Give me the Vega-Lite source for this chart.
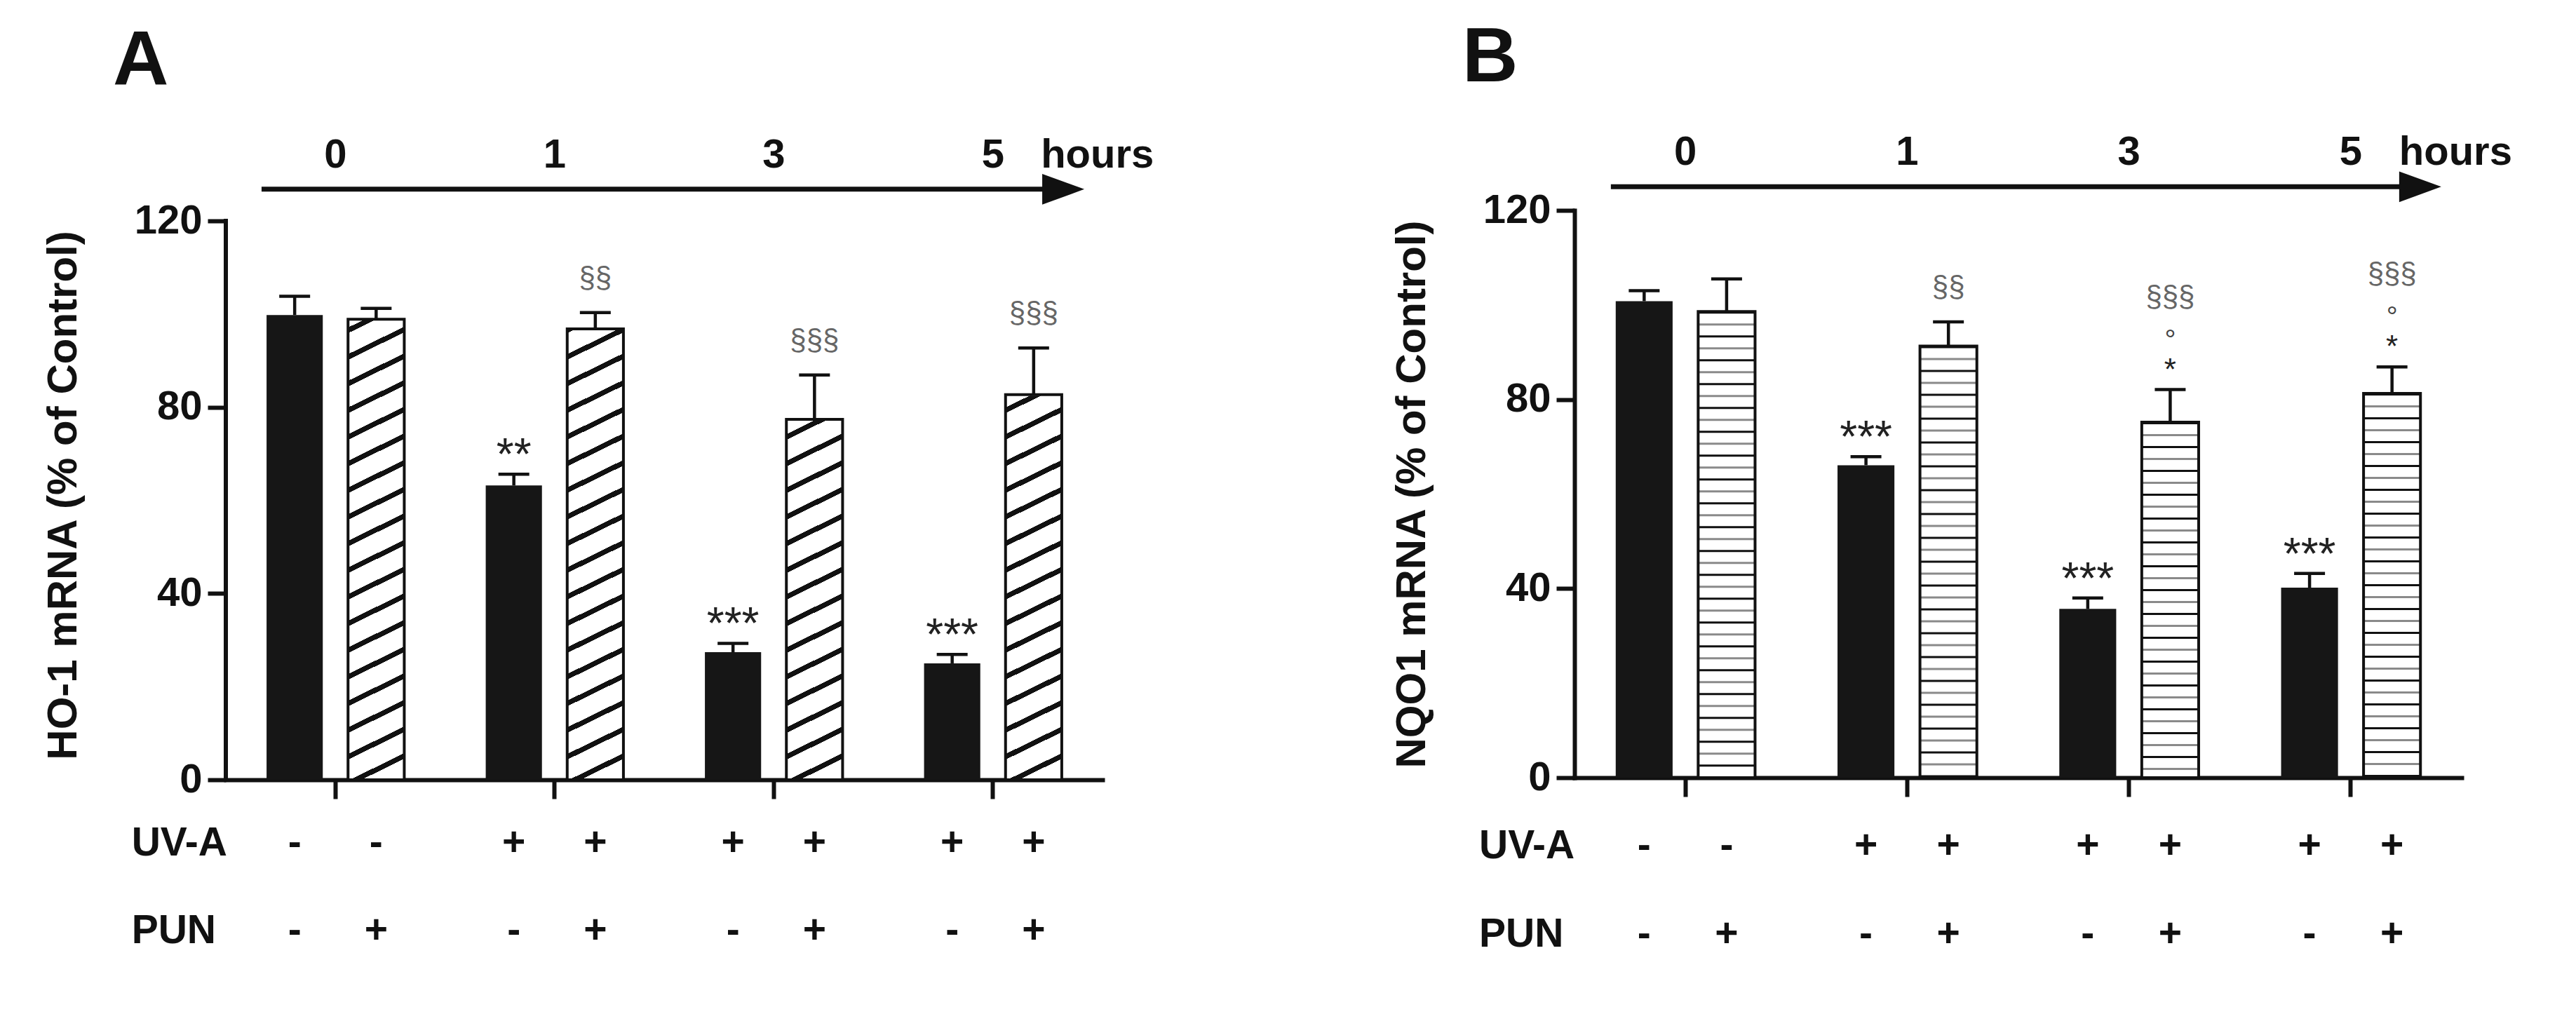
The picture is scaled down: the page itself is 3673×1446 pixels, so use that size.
{
  "$schema": "https://vega.github.io/schema/vega-lite/v6.json",
  "background": "white",
  "padding": {"left": 60, "top": 28, "right": 0, "bottom": 0},
  "spacing": 337,
  "resolve": {"scale": {"x": "independent", "y": "independent", "xOffset": "independent"}},
  "config": {
    "font": "Liberation Sans",
    "view": {"stroke": null},
    "axis": {"grid": false, "domainColor": "#111111", "domainWidth": 6, "domainCap": "square", "tickColor": "#111111", "tickWidth": 6,
      "labelFont": "Liberation Sans", "labelFontSize": 58, "labelFontWeight": "bold", "labelColor": "#111111",
      "titleFont": "Liberation Sans", "titleFontSize": 60, "titleFontWeight": "bold", "titleColor": "#111111"},
    "axisY": {"tickSize": 26, "labelPadding": 8, "titlePadding": 70},
    "title": {"font": "Liberation Sans", "fontSize": 110, "fontWeight": "bold", "color": "#111111"}
  },
  "datasets": {
    "bars": [
      {"panel": "A", "hours": "0", "grp": "ctrl", "uva": "-", "pun": "-", "mean": 99.8, "upper": 103.8, "star": "", "ring": "", "sect": ""},
      {"panel": "A", "hours": "0", "grp": "pun", "uva": "-", "pun": "+", "mean": 98.9, "upper": 101.2, "star": "", "ring": "", "sect": ""},
      {"panel": "A", "hours": "1", "grp": "ctrl", "uva": "+", "pun": "-", "mean": 63.2, "upper": 65.6, "star": "**", "ring": "", "sect": ""},
      {"panel": "A", "hours": "1", "grp": "pun", "uva": "+", "pun": "+", "mean": 96.8, "upper": 100.3, "star": "", "ring": "", "sect": "§§"},
      {"panel": "A", "hours": "3", "grp": "ctrl", "uva": "+", "pun": "-", "mean": 27.4, "upper": 29.3, "star": "***", "ring": "", "sect": ""},
      {"panel": "A", "hours": "3", "grp": "pun", "uva": "+", "pun": "+", "mean": 77.4, "upper": 86.9, "star": "", "ring": "", "sect": "§§§"},
      {"panel": "A", "hours": "5", "grp": "ctrl", "uva": "+", "pun": "-", "mean": 25.0, "upper": 26.9, "star": "***", "ring": "", "sect": ""},
      {"panel": "A", "hours": "5", "grp": "pun", "uva": "+", "pun": "+", "mean": 82.7, "upper": 92.7, "star": "", "ring": "", "sect": "§§§"},
      {"panel": "B", "hours": "0", "grp": "ctrl", "uva": "-", "pun": "-", "mean": 100.8, "upper": 103.0, "star": "", "ring": "", "sect": ""},
      {"panel": "B", "hours": "0", "grp": "pun", "uva": "-", "pun": "+", "mean": 98.6, "upper": 105.5, "star": "", "ring": "", "sect": ""},
      {"panel": "B", "hours": "1", "grp": "ctrl", "uva": "+", "pun": "-", "mean": 66.1, "upper": 67.9, "star": "***", "ring": "", "sect": ""},
      {"panel": "B", "hours": "1", "grp": "pun", "uva": "+", "pun": "+", "mean": 91.3, "upper": 96.4, "star": "", "ring": "", "sect": "§§"},
      {"panel": "B", "hours": "3", "grp": "ctrl", "uva": "+", "pun": "-", "mean": 35.7, "upper": 38.0, "star": "***", "ring": "", "sect": ""},
      {"panel": "B", "hours": "3", "grp": "pun", "uva": "+", "pun": "+", "mean": 75.2, "upper": 82.1, "star": "*", "ring": "°", "sect": "§§§"},
      {"panel": "B", "hours": "5", "grp": "ctrl", "uva": "+", "pun": "-", "mean": 40.2, "upper": 43.2, "star": "***", "ring": "", "sect": ""},
      {"panel": "B", "hours": "5", "grp": "pun", "uva": "+", "pun": "+", "mean": 81.3, "upper": 86.9, "star": "*", "ring": "°", "sect": "§§§"}
    ]
  },
  "hconcat": [
    {
      "width": 1250,
      "height": 812,
      "title": {"text": "A", "anchor": "start", "frame": "group", "dx": -161, "offset": 50},
      "data": {"name": "bars"},
      "transform": [{"filter": "datum.panel === 'A'"}],
      "layer": [
        {
          "transform": [{"filter": "datum.grp === 'pun'"}],
          "mark": {"type": "bar", "strokeWidth": 0, "fill": {"gradient": "linear", "x1": 0, "y1": 0, "x2": 0.0515, "y2": 1.0467, "stops": [
            {"offset": 0, "color": "#111111"}, {"offset": 0.0096, "color": "#111111"}, {"offset": 0.0096, "color": "#ffffff"},
            {"offset": 0.04545, "color": "#ffffff"}, {"offset": 0.04545, "color": "#111111"}, {"offset": 0.05505, "color": "#111111"}, {"offset": 0.05505, "color": "#ffffff"},
            {"offset": 0.09091, "color": "#ffffff"}, {"offset": 0.09091, "color": "#111111"}, {"offset": 0.10051, "color": "#111111"}, {"offset": 0.10051, "color": "#ffffff"},
            {"offset": 0.13636, "color": "#ffffff"}, {"offset": 0.13636, "color": "#111111"}, {"offset": 0.14596, "color": "#111111"}, {"offset": 0.14596, "color": "#ffffff"},
            {"offset": 0.18182, "color": "#ffffff"}, {"offset": 0.18182, "color": "#111111"}, {"offset": 0.19142, "color": "#111111"}, {"offset": 0.19142, "color": "#ffffff"},
            {"offset": 0.22727, "color": "#ffffff"}, {"offset": 0.22727, "color": "#111111"}, {"offset": 0.23687, "color": "#111111"}, {"offset": 0.23687, "color": "#ffffff"},
            {"offset": 0.27273, "color": "#ffffff"}, {"offset": 0.27273, "color": "#111111"}, {"offset": 0.28233, "color": "#111111"}, {"offset": 0.28233, "color": "#ffffff"},
            {"offset": 0.31818, "color": "#ffffff"}, {"offset": 0.31818, "color": "#111111"}, {"offset": 0.32778, "color": "#111111"}, {"offset": 0.32778, "color": "#ffffff"},
            {"offset": 0.36364, "color": "#ffffff"}, {"offset": 0.36364, "color": "#111111"}, {"offset": 0.37324, "color": "#111111"}, {"offset": 0.37324, "color": "#ffffff"},
            {"offset": 0.40909, "color": "#ffffff"}, {"offset": 0.40909, "color": "#111111"}, {"offset": 0.41869, "color": "#111111"}, {"offset": 0.41869, "color": "#ffffff"},
            {"offset": 0.45455, "color": "#ffffff"}, {"offset": 0.45455, "color": "#111111"}, {"offset": 0.46415, "color": "#111111"}, {"offset": 0.46415, "color": "#ffffff"},
            {"offset": 0.5, "color": "#ffffff"}, {"offset": 0.5, "color": "#111111"}, {"offset": 0.5096, "color": "#111111"}, {"offset": 0.5096, "color": "#ffffff"},
            {"offset": 0.54545, "color": "#ffffff"}, {"offset": 0.54545, "color": "#111111"}, {"offset": 0.55505, "color": "#111111"}, {"offset": 0.55505, "color": "#ffffff"},
            {"offset": 0.59091, "color": "#ffffff"}, {"offset": 0.59091, "color": "#111111"}, {"offset": 0.60051, "color": "#111111"}, {"offset": 0.60051, "color": "#ffffff"},
            {"offset": 0.63636, "color": "#ffffff"}, {"offset": 0.63636, "color": "#111111"}, {"offset": 0.64596, "color": "#111111"}, {"offset": 0.64596, "color": "#ffffff"},
            {"offset": 0.68182, "color": "#ffffff"}, {"offset": 0.68182, "color": "#111111"}, {"offset": 0.69142, "color": "#111111"}, {"offset": 0.69142, "color": "#ffffff"},
            {"offset": 0.72727, "color": "#ffffff"}, {"offset": 0.72727, "color": "#111111"}, {"offset": 0.73687, "color": "#111111"}, {"offset": 0.73687, "color": "#ffffff"},
            {"offset": 0.77273, "color": "#ffffff"}, {"offset": 0.77273, "color": "#111111"}, {"offset": 0.78233, "color": "#111111"}, {"offset": 0.78233, "color": "#ffffff"},
            {"offset": 0.81818, "color": "#ffffff"}, {"offset": 0.81818, "color": "#111111"}, {"offset": 0.82778, "color": "#111111"}, {"offset": 0.82778, "color": "#ffffff"},
            {"offset": 0.86364, "color": "#ffffff"}, {"offset": 0.86364, "color": "#111111"}, {"offset": 0.87324, "color": "#111111"}, {"offset": 0.87324, "color": "#ffffff"},
            {"offset": 0.90909, "color": "#ffffff"}, {"offset": 0.90909, "color": "#111111"}, {"offset": 0.91869, "color": "#111111"}, {"offset": 0.91869, "color": "#ffffff"},
            {"offset": 0.95455, "color": "#ffffff"}, {"offset": 0.95455, "color": "#111111"}, {"offset": 0.96415, "color": "#111111"}, {"offset": 0.96415, "color": "#ffffff"},
            {"offset": 1, "color": "#ffffff"}
          ]}},
          "encoding": {
            "x": {"field": "hours", "type": "nominal", "scale": {"domain": ["0", "1", "3", "5"], "paddingInner": 0, "paddingOuter": 0}},
            "xOffset": {"field": "grp", "type": "nominal", "scale": {"domain": ["ctrl", "pun"], "paddingInner": 0.31, "paddingOuter": 0.5}},
            "y": {"datum": 0, "type": "quantitative", "scale": {"domain": [0, 122.26], "nice": false}},
            "y2": {"datum": 120}
          }
        },
        {
          "transform": [{"filter": "datum.grp === 'pun'"}],
          "mark": {"type": "bar", "fill": "#ffffff", "stroke": "#ffffff", "strokeWidth": 3},
          "encoding": {
            "x": {"field": "hours", "type": "nominal", "scale": {"domain": ["0", "1", "3", "5"], "paddingInner": 0, "paddingOuter": 0}},
            "xOffset": {"field": "grp", "type": "nominal", "scale": {"domain": ["ctrl", "pun"], "paddingInner": 0.31, "paddingOuter": 0.5}},
            "y": {"field": "mean", "type": "quantitative", "scale": {"domain": [0, 122.26], "nice": false}},
            "y2": {"datum": 120}
          }
        },
        {
          "transform": [{"filter": "datum.grp === 'pun'"}],
          "mark": {"type": "bar", "fill": "#ffffff", "fillOpacity": 0, "stroke": "#111111", "strokeWidth": 4},
          "encoding": {
            "x": {"field": "hours", "type": "nominal", "scale": {"domain": ["0", "1", "3", "5"], "paddingInner": 0, "paddingOuter": 0}},
            "xOffset": {"field": "grp", "type": "nominal", "scale": {"domain": ["ctrl", "pun"], "paddingInner": 0.31, "paddingOuter": 0.5}},
            "y": {"field": "mean", "type": "quantitative", "scale": {"domain": [0, 122.26], "nice": false}}
          }
        },
        {
          "transform": [{"filter": "datum.grp === 'ctrl'"}],
          "mark": {"type": "bar", "color": "#161616"},
          "encoding": {
            "x": {"field": "hours", "type": "nominal", "scale": {"domain": ["0", "1", "3", "5"], "paddingInner": 0, "paddingOuter": 0}, "axis": {"labels": false, "title": null, "tickSize": 27}},
            "xOffset": {"field": "grp", "type": "nominal", "scale": {"domain": ["ctrl", "pun"], "paddingInner": 0.31, "paddingOuter": 0.5}},
            "y": {"field": "mean", "type": "quantitative", "scale": {"domain": [0, 122.26], "nice": false}, "axis": {"values": [0, 40, 80, 120], "domain": false, "title": "HO-1 mRNA (% of Control)"}}
          }
        },
        {
          "transform": [{"filter": "datum.hours === '0' && datum.grp === 'ctrl'"}],
          "mark": {"type": "rule", "strokeWidth": 6, "strokeCap": "square", "color": "#111111"},
          "encoding": {
            "x": {"datum": "0", "type": "nominal", "bandPosition": 0, "scale": {"domain": ["0", "1", "3", "5"], "paddingInner": 0, "paddingOuter": 0}},
            "y": {"datum": 0, "type": "quantitative", "scale": {"domain": [0, 122.26], "nice": false}},
            "y2": {"datum": 120}
          }
        },
        {
          "mark": {"type": "rule", "strokeWidth": 4.5, "color": "#111111"},
          "encoding": {
            "x": {"field": "hours", "type": "nominal", "scale": {"domain": ["0", "1", "3", "5"], "paddingInner": 0, "paddingOuter": 0}},
            "xOffset": {"field": "grp", "type": "nominal", "scale": {"domain": ["ctrl", "pun"], "paddingInner": 0.31, "paddingOuter": 0.5}},
            "y": {"field": "mean", "type": "quantitative", "scale": {"domain": [0, 122.26], "nice": false}},
            "y2": {"field": "upper"}
          }
        },
        {
          "mark": {"type": "tick", "orient": "horizontal", "size": 44, "thickness": 4.5, "color": "#111111", "opacity": 1},
          "encoding": {
            "x": {"field": "hours", "type": "nominal", "scale": {"domain": ["0", "1", "3", "5"], "paddingInner": 0, "paddingOuter": 0}},
            "xOffset": {"field": "grp", "type": "nominal", "scale": {"domain": ["ctrl", "pun"], "paddingInner": 0.31, "paddingOuter": 0.5}},
            "y": {"field": "upper", "type": "quantitative", "scale": {"domain": [0, 122.26], "nice": false}}
          }
        },
        {
          "transform": [{"filter": "datum.star !== '' && datum.grp === 'ctrl'"}],
          "mark": {"type": "text", "fontSize": 64, "color": "#222222", "align": "center", "baseline": "alphabetic", "dy": -6},
          "encoding": {
            "x": {"field": "hours", "type": "nominal", "scale": {"domain": ["0", "1", "3", "5"], "paddingInner": 0, "paddingOuter": 0}},
            "xOffset": {"field": "grp", "type": "nominal", "scale": {"domain": ["ctrl", "pun"], "paddingInner": 0.31, "paddingOuter": 0.5}},
            "y": {"field": "upper", "type": "quantitative", "scale": {"domain": [0, 122.26], "nice": false}},
            "text": {"field": "star"}
          }
        },
        {
          "transform": [{"filter": "datum.sect !== ''"}],
          "mark": {"type": "text", "fontSize": 42, "color": "#666666", "align": "center", "baseline": "alphabetic", "dy": -36},
          "encoding": {
            "x": {"field": "hours", "type": "nominal", "scale": {"domain": ["0", "1", "3", "5"], "paddingInner": 0, "paddingOuter": 0}},
            "xOffset": {"field": "grp", "type": "nominal", "scale": {"domain": ["ctrl", "pun"], "paddingInner": 0.31, "paddingOuter": 0.5}},
            "y": {"field": "upper", "type": "quantitative", "scale": {"domain": [0, 122.26], "nice": false}},
            "text": {"field": "sect"}
          }
        },
        {
          "mark": {"type": "text", "fontSize": 57, "fontWeight": "bold", "color": "#111111", "align": "center", "baseline": "alphabetic"},
          "encoding": {
            "x": {"field": "hours", "type": "nominal", "scale": {"domain": ["0", "1", "3", "5"], "paddingInner": 0, "paddingOuter": 0}},
            "xOffset": {"field": "grp", "type": "nominal", "scale": {"domain": ["ctrl", "pun"], "paddingInner": 0.31, "paddingOuter": 0.5}},
            "y": {"datum": -16.3, "type": "quantitative", "scale": {"domain": [0, 122.26], "nice": false}},
            "text": {"field": "uva"}
          }
        },
        {
          "mark": {"type": "text", "fontSize": 57, "fontWeight": "bold", "color": "#111111", "align": "center", "baseline": "alphabetic"},
          "encoding": {
            "x": {"field": "hours", "type": "nominal", "scale": {"domain": ["0", "1", "3", "5"], "paddingInner": 0, "paddingOuter": 0}},
            "xOffset": {"field": "grp", "type": "nominal", "scale": {"domain": ["ctrl", "pun"], "paddingInner": 0.31, "paddingOuter": 0.5}},
            "y": {"datum": -35.1, "type": "quantitative", "scale": {"domain": [0, 122.26], "nice": false}},
            "text": {"field": "pun"}
          }
        },
        {
          "transform": [{"filter": "datum.hours === '0' && datum.grp === 'ctrl'"}],
          "mark": {"type": "text", "text": "UV-A", "fontSize": 57, "fontWeight": "bold", "color": "#111111", "align": "left", "baseline": "alphabetic"},
          "encoding": {
            "x": {"datum": "0", "type": "nominal", "bandPosition": -0.43, "scale": {"domain": ["0", "1", "3", "5"], "paddingInner": 0, "paddingOuter": 0}},
            "y": {"datum": -16.3, "type": "quantitative", "scale": {"domain": [0, 122.26], "nice": false}}
          }
        },
        {
          "transform": [{"filter": "datum.hours === '0' && datum.grp === 'ctrl'"}],
          "mark": {"type": "text", "text": "PUN", "fontSize": 57, "fontWeight": "bold", "color": "#111111", "align": "left", "baseline": "alphabetic"},
          "encoding": {
            "x": {"datum": "0", "type": "nominal", "bandPosition": -0.43, "scale": {"domain": ["0", "1", "3", "5"], "paddingInner": 0, "paddingOuter": 0}},
            "y": {"datum": -35.1, "type": "quantitative", "scale": {"domain": [0, 122.26], "nice": false}}
          }
        },
        {
          "transform": [{"filter": "datum.grp === 'ctrl'"}],
          "mark": {"type": "text", "fontSize": 58, "fontWeight": "bold", "color": "#111111", "align": "center", "baseline": "alphabetic"},
          "encoding": {
            "x": {"field": "hours", "type": "nominal", "scale": {"domain": ["0", "1", "3", "5"], "paddingInner": 0, "paddingOuter": 0}},
            "y": {"datum": 131.4, "type": "quantitative", "scale": {"domain": [0, 122.26], "nice": false}},
            "text": {"field": "hours"}
          }
        },
        {
          "transform": [{"filter": "datum.hours === '5' && datum.grp === 'ctrl'"}],
          "mark": {"type": "text", "text": "hours", "fontSize": 58, "fontWeight": "bold", "color": "#111111", "align": "left", "baseline": "alphabetic"},
          "encoding": {
            "x": {"datum": "5", "type": "nominal", "bandPosition": 0.719, "scale": {"domain": ["0", "1", "3", "5"], "paddingInner": 0, "paddingOuter": 0}},
            "y": {"datum": 131.4, "type": "quantitative", "scale": {"domain": [0, 122.26], "nice": false}}
          }
        },
        {
          "transform": [{"filter": "datum.hours === '0' && datum.grp === 'ctrl'"}],
          "mark": {"type": "rule", "strokeWidth": 7, "color": "#111111"},
          "encoding": {
            "x": {"datum": "0", "type": "nominal", "bandPosition": 0.163, "scale": {"domain": ["0", "1", "3", "5"], "paddingInner": 0, "paddingOuter": 0}},
            "x2": {"datum": "5", "bandPosition": 0.8},
            "y": {"datum": 126.8, "type": "quantitative", "scale": {"domain": [0, 122.26], "nice": false}}
          }
        },
        {
          "transform": [{"filter": "datum.hours === '0' && datum.grp === 'ctrl'"}],
          "mark": {"type": "point", "shape": "M-1,-0.73L1,0L-1,0.73Z", "size": 3600, "filled": true, "color": "#111111", "opacity": 1},
          "encoding": {
            "x": {"datum": "5", "type": "nominal", "bandPosition": 0.821, "scale": {"domain": ["0", "1", "3", "5"], "paddingInner": 0, "paddingOuter": 0}},
            "y": {"datum": 126.8, "type": "quantitative", "scale": {"domain": [0, 122.26], "nice": false}}
          }
        }
      ]
    },
    {
      "width": 1265,
      "height": 809,
      "title": {"text": "B", "anchor": "start", "frame": "group", "dx": -160, "offset": 50},
      "data": {"name": "bars"},
      "transform": [{"filter": "datum.panel === 'B'"}],
      "layer": [
        {
          "transform": [{"filter": "datum.grp === 'pun'"}],
          "mark": {"type": "bar", "fill": "#ffffff", "strokeWidth": 0},
          "encoding": {
            "x": {"field": "hours", "type": "nominal", "scale": {"domain": ["0", "1", "3", "5"], "paddingInner": 0, "paddingOuter": 0}},
            "xOffset": {"field": "grp", "type": "nominal", "scale": {"domain": ["ctrl", "pun"], "paddingInner": 0.31, "paddingOuter": 0.5}},
            "y": {"field": "mean", "type": "quantitative", "scale": {"domain": [0, 120], "nice": false}}
          }
        },
        {
          "transform": [{"filter": "datum.grp === 'pun'"}],
          "mark": {"type": "rule", "strokeWidth": 79, "strokeCap": "butt", "strokeDash": [3, 31], "color": "#111111"},
          "encoding": {
            "x": {"field": "hours", "type": "nominal", "scale": {"domain": ["0", "1", "3", "5"], "paddingInner": 0, "paddingOuter": 0}},
            "xOffset": {"field": "grp", "type": "nominal", "scale": {"domain": ["ctrl", "pun"], "paddingInner": 0.31, "paddingOuter": 0.5}},
            "y": {"field": "mean", "type": "quantitative", "scale": {"domain": [0, 120], "nice": false}},
            "y2": {"datum": 0}
          }
        },
        {
          "transform": [{"filter": "datum.grp === 'pun'"}],
          "mark": {"type": "rule", "strokeWidth": 79, "strokeCap": "butt", "strokeDash": [3, 31], "strokeDashOffset": 17, "color": "#8a8a8a"},
          "encoding": {
            "x": {"field": "hours", "type": "nominal", "scale": {"domain": ["0", "1", "3", "5"], "paddingInner": 0, "paddingOuter": 0}},
            "xOffset": {"field": "grp", "type": "nominal", "scale": {"domain": ["ctrl", "pun"], "paddingInner": 0.31, "paddingOuter": 0.5}},
            "y": {"field": "mean", "type": "quantitative", "scale": {"domain": [0, 120], "nice": false}},
            "y2": {"datum": 0}
          }
        },
        {
          "transform": [{"filter": "datum.grp === 'pun'"}],
          "mark": {"type": "bar", "fill": "#ffffff", "fillOpacity": 0, "stroke": "#111111", "strokeWidth": 4},
          "encoding": {
            "x": {"field": "hours", "type": "nominal", "scale": {"domain": ["0", "1", "3", "5"], "paddingInner": 0, "paddingOuter": 0}},
            "xOffset": {"field": "grp", "type": "nominal", "scale": {"domain": ["ctrl", "pun"], "paddingInner": 0.31, "paddingOuter": 0.5}},
            "y": {"field": "mean", "type": "quantitative", "scale": {"domain": [0, 120], "nice": false}}
          }
        },
        {
          "transform": [{"filter": "datum.grp === 'ctrl'"}],
          "mark": {"type": "bar", "color": "#161616"},
          "encoding": {
            "x": {"field": "hours", "type": "nominal", "scale": {"domain": ["0", "1", "3", "5"], "paddingInner": 0, "paddingOuter": 0}, "axis": {"labels": false, "title": null, "tickSize": 27}},
            "xOffset": {"field": "grp", "type": "nominal", "scale": {"domain": ["ctrl", "pun"], "paddingInner": 0.31, "paddingOuter": 0.5}},
            "y": {"field": "mean", "type": "quantitative", "scale": {"domain": [0, 120], "nice": false}, "axis": {"values": [0, 40, 80, 120], "title": "NQO1 mRNA (% of Control)"}}
          }
        },
        {
          "mark": {"type": "rule", "strokeWidth": 4.5, "color": "#111111"},
          "encoding": {
            "x": {"field": "hours", "type": "nominal", "scale": {"domain": ["0", "1", "3", "5"], "paddingInner": 0, "paddingOuter": 0}},
            "xOffset": {"field": "grp", "type": "nominal", "scale": {"domain": ["ctrl", "pun"], "paddingInner": 0.31, "paddingOuter": 0.5}},
            "y": {"field": "mean", "type": "quantitative", "scale": {"domain": [0, 120], "nice": false}},
            "y2": {"field": "upper"}
          }
        },
        {
          "mark": {"type": "tick", "orient": "horizontal", "size": 44, "thickness": 4.5, "color": "#111111", "opacity": 1},
          "encoding": {
            "x": {"field": "hours", "type": "nominal", "scale": {"domain": ["0", "1", "3", "5"], "paddingInner": 0, "paddingOuter": 0}},
            "xOffset": {"field": "grp", "type": "nominal", "scale": {"domain": ["ctrl", "pun"], "paddingInner": 0.31, "paddingOuter": 0.5}},
            "y": {"field": "upper", "type": "quantitative", "scale": {"domain": [0, 120], "nice": false}}
          }
        },
        {
          "transform": [{"filter": "datum.star !== '' && datum.grp === 'ctrl'"}],
          "mark": {"type": "text", "fontSize": 64, "color": "#222222", "align": "center", "baseline": "alphabetic", "dy": -6},
          "encoding": {
            "x": {"field": "hours", "type": "nominal", "scale": {"domain": ["0", "1", "3", "5"], "paddingInner": 0, "paddingOuter": 0}},
            "xOffset": {"field": "grp", "type": "nominal", "scale": {"domain": ["ctrl", "pun"], "paddingInner": 0.31, "paddingOuter": 0.5}},
            "y": {"field": "upper", "type": "quantitative", "scale": {"domain": [0, 120], "nice": false}},
            "text": {"field": "star"}
          }
        },
        {
          "transform": [{"filter": "datum.star !== '' && datum.grp === 'pun'"}],
          "mark": {"type": "text", "fontSize": 44, "color": "#222222", "align": "center", "baseline": "alphabetic", "dy": -14},
          "encoding": {
            "x": {"field": "hours", "type": "nominal", "scale": {"domain": ["0", "1", "3", "5"], "paddingInner": 0, "paddingOuter": 0}},
            "xOffset": {"field": "grp", "type": "nominal", "scale": {"domain": ["ctrl", "pun"], "paddingInner": 0.31, "paddingOuter": 0.5}},
            "y": {"field": "upper", "type": "quantitative", "scale": {"domain": [0, 120], "nice": false}},
            "text": {"field": "star"}
          }
        },
        {
          "transform": [{"filter": "datum.ring !== ''"}],
          "mark": {"type": "text", "fontSize": 40, "color": "#444444", "align": "center", "baseline": "alphabetic", "dy": -58},
          "encoding": {
            "x": {"field": "hours", "type": "nominal", "scale": {"domain": ["0", "1", "3", "5"], "paddingInner": 0, "paddingOuter": 0}},
            "xOffset": {"field": "grp", "type": "nominal", "scale": {"domain": ["ctrl", "pun"], "paddingInner": 0.31, "paddingOuter": 0.5}},
            "y": {"field": "upper", "type": "quantitative", "scale": {"domain": [0, 120], "nice": false}},
            "text": {"field": "ring"}
          }
        },
        {
          "transform": [{"filter": "datum.sect !== '' && datum.ring === ''"}],
          "mark": {"type": "text", "fontSize": 42, "color": "#666666", "align": "center", "baseline": "alphabetic", "dy": -36},
          "encoding": {
            "x": {"field": "hours", "type": "nominal", "scale": {"domain": ["0", "1", "3", "5"], "paddingInner": 0, "paddingOuter": 0}},
            "xOffset": {"field": "grp", "type": "nominal", "scale": {"domain": ["ctrl", "pun"], "paddingInner": 0.31, "paddingOuter": 0.5}},
            "y": {"field": "upper", "type": "quantitative", "scale": {"domain": [0, 120], "nice": false}},
            "text": {"field": "sect"}
          }
        },
        {
          "transform": [{"filter": "datum.sect !== '' && datum.ring !== ''"}],
          "mark": {"type": "text", "fontSize": 42, "color": "#666666", "align": "center", "baseline": "alphabetic", "dy": -119},
          "encoding": {
            "x": {"field": "hours", "type": "nominal", "scale": {"domain": ["0", "1", "3", "5"], "paddingInner": 0, "paddingOuter": 0}},
            "xOffset": {"field": "grp", "type": "nominal", "scale": {"domain": ["ctrl", "pun"], "paddingInner": 0.31, "paddingOuter": 0.5}},
            "y": {"field": "upper", "type": "quantitative", "scale": {"domain": [0, 120], "nice": false}},
            "text": {"field": "sect"}
          }
        },
        {
          "mark": {"type": "text", "fontSize": 57, "fontWeight": "bold", "color": "#111111", "align": "center", "baseline": "alphabetic"},
          "encoding": {
            "x": {"field": "hours", "type": "nominal", "scale": {"domain": ["0", "1", "3", "5"], "paddingInner": 0, "paddingOuter": 0}},
            "xOffset": {"field": "grp", "type": "nominal", "scale": {"domain": ["ctrl", "pun"], "paddingInner": 0.31, "paddingOuter": 0.5}},
            "y": {"datum": -17, "type": "quantitative", "scale": {"domain": [0, 120], "nice": false}},
            "text": {"field": "uva"}
          }
        },
        {
          "mark": {"type": "text", "fontSize": 57, "fontWeight": "bold", "color": "#111111", "align": "center", "baseline": "alphabetic"},
          "encoding": {
            "x": {"field": "hours", "type": "nominal", "scale": {"domain": ["0", "1", "3", "5"], "paddingInner": 0, "paddingOuter": 0}},
            "xOffset": {"field": "grp", "type": "nominal", "scale": {"domain": ["ctrl", "pun"], "paddingInner": 0.31, "paddingOuter": 0.5}},
            "y": {"datum": -35.7, "type": "quantitative", "scale": {"domain": [0, 120], "nice": false}},
            "text": {"field": "pun"}
          }
        },
        {
          "transform": [{"filter": "datum.hours === '0' && datum.grp === 'ctrl'"}],
          "mark": {"type": "text", "text": "UV-A", "fontSize": 57, "fontWeight": "bold", "color": "#111111", "align": "left", "baseline": "alphabetic"},
          "encoding": {
            "x": {"datum": "0", "type": "nominal", "bandPosition": -0.43, "scale": {"domain": ["0", "1", "3", "5"], "paddingInner": 0, "paddingOuter": 0}},
            "y": {"datum": -17, "type": "quantitative", "scale": {"domain": [0, 120], "nice": false}}
          }
        },
        {
          "transform": [{"filter": "datum.hours === '0' && datum.grp === 'ctrl'"}],
          "mark": {"type": "text", "text": "PUN", "fontSize": 57, "fontWeight": "bold", "color": "#111111", "align": "left", "baseline": "alphabetic"},
          "encoding": {
            "x": {"datum": "0", "type": "nominal", "bandPosition": -0.43, "scale": {"domain": ["0", "1", "3", "5"], "paddingInner": 0, "paddingOuter": 0}},
            "y": {"datum": -35.7, "type": "quantitative", "scale": {"domain": [0, 120], "nice": false}}
          }
        },
        {
          "transform": [{"filter": "datum.grp === 'ctrl'"}],
          "mark": {"type": "text", "fontSize": 58, "fontWeight": "bold", "color": "#111111", "align": "center", "baseline": "alphabetic"},
          "encoding": {
            "x": {"field": "hours", "type": "nominal", "scale": {"domain": ["0", "1", "3", "5"], "paddingInner": 0, "paddingOuter": 0}},
            "y": {"datum": 129.6, "type": "quantitative", "scale": {"domain": [0, 120], "nice": false}},
            "text": {"field": "hours"}
          }
        },
        {
          "transform": [{"filter": "datum.hours === '5' && datum.grp === 'ctrl'"}],
          "mark": {"type": "text", "text": "hours", "fontSize": 58, "fontWeight": "bold", "color": "#111111", "align": "left", "baseline": "alphabetic"},
          "encoding": {
            "x": {"datum": "5", "type": "nominal", "bandPosition": 0.718, "scale": {"domain": ["0", "1", "3", "5"], "paddingInner": 0, "paddingOuter": 0}},
            "y": {"datum": 129.6, "type": "quantitative", "scale": {"domain": [0, 120], "nice": false}}
          }
        },
        {
          "transform": [{"filter": "datum.hours === '0' && datum.grp === 'ctrl'"}],
          "mark": {"type": "rule", "strokeWidth": 7, "color": "#111111"},
          "encoding": {
            "x": {"datum": "0", "type": "nominal", "bandPosition": 0.164, "scale": {"domain": ["0", "1", "3", "5"], "paddingInner": 0, "paddingOuter": 0}},
            "x2": {"datum": "5", "bandPosition": 0.8},
            "y": {"datum": 125.0, "type": "quantitative", "scale": {"domain": [0, 120], "nice": false}}
          }
        },
        {
          "transform": [{"filter": "datum.hours === '0' && datum.grp === 'ctrl'"}],
          "mark": {"type": "point", "shape": "M-1,-0.73L1,0L-1,0.73Z", "size": 3600, "filled": true, "color": "#111111", "opacity": 1},
          "encoding": {
            "x": {"datum": "5", "type": "nominal", "bandPosition": 0.813, "scale": {"domain": ["0", "1", "3", "5"], "paddingInner": 0, "paddingOuter": 0}},
            "y": {"datum": 125.0, "type": "quantitative", "scale": {"domain": [0, 120], "nice": false}}
          }
        }
      ]
    }
  ]
}
